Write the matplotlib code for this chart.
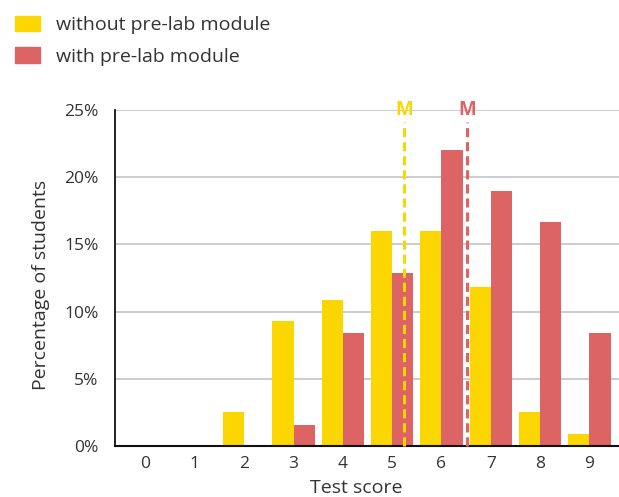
import matplotlib.pyplot as plt
from matplotlib.patches import Patch
import numpy as np

plt.rcParams['font.family'] = ['Open Sans', 'DejaVu Sans']

scores = [0, 1, 2, 3, 4, 5, 6, 7, 8, 9]
without_module = [0, 0, 2.5, 9.3, 10.9, 16.0, 16.0, 11.8, 2.5, 0.9]
with_module = [0, 0, 0, 1.6, 8.4, 12.9, 22.0, 19.0, 16.7, 8.4]
mean_without = 5.25
mean_with = 6.52
yticks = [0, 5, 10, 15, 20, 25]

yellow = '#fcd600'
red = '#dc6464'
text_col = '#333333'

fig = plt.figure(figsize=(6.19, 4.97), dpi=100)
ax = fig.add_axes([0.1858, 0.1026, 0.8142, 0.6761])

x = np.arange(len(scores))
w = 0.43
ax.bar(x - w / 2, without_module, width=w, color=yellow, zorder=2)
ax.bar(x + w / 2, with_module, width=w, color=red, zorder=2)

for m, c in [(mean_without, yellow), (mean_with, red)]:
	ax.plot([m, m], [0, 24.1], color=c, lw=2.2, dashes=(3.0, 1.6), zorder=3, clip_on=False)
	ax.text(m, 25.0, 'M', color=c, fontsize=13.5, fontweight='bold', ha='center', va='center', zorder=4)

ax.set_xlim(-0.62, 9.6)
ax.set_ylim(0, 25)
ax.set_xticks(x)
ax.set_xticklabels([str(s) for s in scores])
ax.set_yticks(yticks)
ax.set_yticklabels([f'{t}%' for t in yticks])
ax.tick_params(length=0, labelsize=12.5, colors=text_col, pad=7)
ax.tick_params(axis='y', pad=12)
ax.grid(axis='y', color='#c4c4c4', lw=1.2, zorder=0)
ax.set_axisbelow(True)
for s in ['top', 'right']:
	ax.spines[s].set_visible(False)
ax.spines['left'].set_linewidth(1.3)
ax.spines['bottom'].set_linewidth(1.5)
ax.spines['left'].set_color('#111111')
ax.spines['bottom'].set_color('#111111')

ax.set_xlabel('Test score', fontsize=14, color=text_col)
ax.xaxis.label.set_va('baseline')
ax.xaxis.set_label_coords(0.478, -0.141)
ax.set_ylabel('Percentage of students', fontsize=14, color=text_col)
ax.yaxis.set_label_coords(-0.128, 0.479)

handles = [Patch(color=yellow), Patch(color=red)]
fig.legend(handles, ['without pre-lab module', 'with pre-lab module'], loc='upper left',
	bbox_to_anchor=(-0.004, 1.004), frameon=False, fontsize=14, handlelength=1.29, handleheight=0.88,
	handletextpad=0.8, labelspacing=0.68, labelcolor=text_col)

fig.savefig('out.png', dpi=100)
